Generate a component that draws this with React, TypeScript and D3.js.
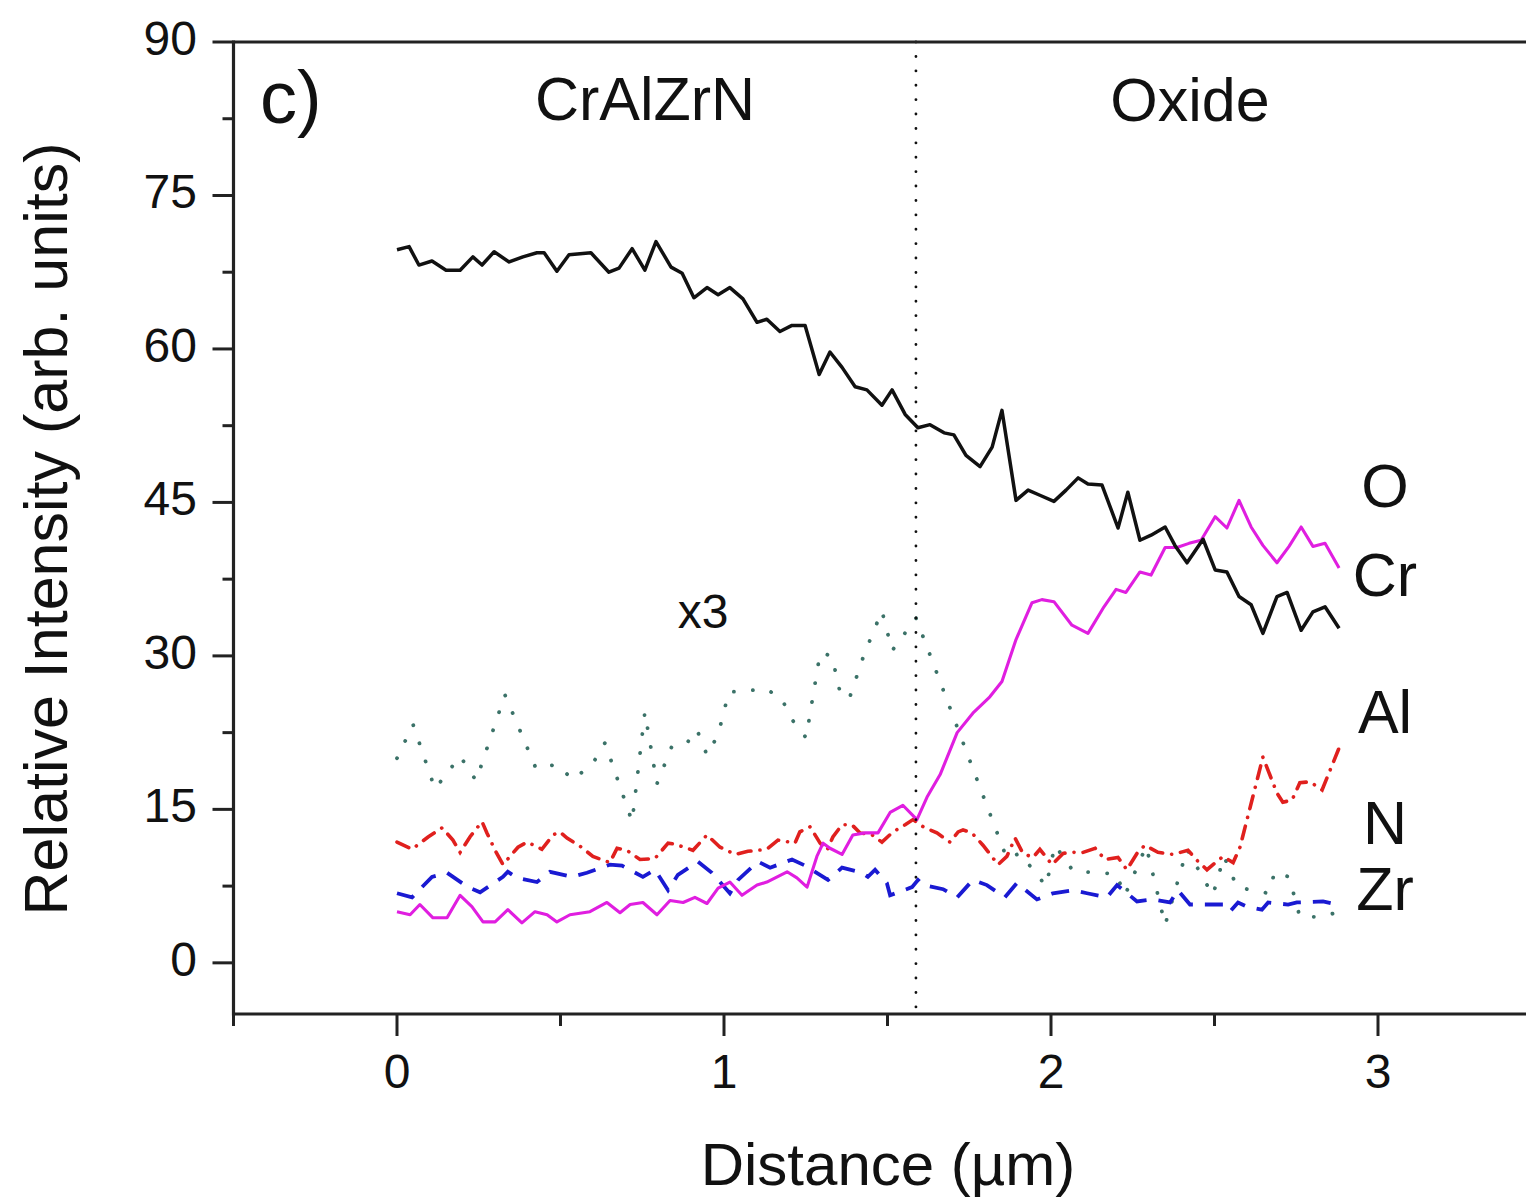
import React from "react";
import * as d3 from "d3";

// ---------- data (distance in µm, relative intensity) ----------
const crData: [number, number][] = [
  [0.0, 69.7], [0.037, 70.0], [0.067, 68.2], [0.107, 68.6], [0.15, 67.7], [0.193, 67.7],
  [0.232, 69.0], [0.26, 68.2], [0.297, 69.5], [0.343, 68.5], [0.385, 69.0], [0.428, 69.4],
  [0.45, 69.4], [0.489, 67.6], [0.526, 69.2], [0.56, 69.3], [0.593, 69.4], [0.648, 67.5],
  [0.679, 67.9], [0.719, 69.8], [0.758, 67.7], [0.792, 70.5], [0.838, 68.0], [0.872, 67.4],
  [0.908, 65.0], [0.948, 66.0], [0.982, 65.3], [1.018, 66.0], [1.058, 64.9], [1.101, 62.6],
  [1.131, 62.9], [1.171, 61.7], [1.208, 62.3], [1.248, 62.3], [1.291, 57.5], [1.324, 59.7],
  [1.361, 58.2], [1.401, 56.3], [1.437, 56.0], [1.483, 54.5], [1.514, 56.0], [1.554, 53.6],
  [1.593, 52.3], [1.63, 52.6], [1.673, 51.8], [1.703, 51.6], [1.74, 49.6], [1.783, 48.5],
  [1.82, 50.4], [1.85, 54.0], [1.893, 45.2], [1.93, 46.2], [1.966, 45.7], [2.009, 45.1],
  [2.046, 46.2], [2.083, 47.4], [2.113, 46.8], [2.156, 46.7], [2.205, 42.5], [2.235, 46.0],
  [2.272, 41.3], [2.306, 41.8], [2.349, 42.6], [2.379, 40.8], [2.416, 39.1], [2.465, 41.4],
  [2.502, 38.4], [2.538, 38.2], [2.575, 35.8], [2.612, 35.0], [2.648, 32.2], [2.691, 35.8],
  [2.722, 36.2], [2.765, 32.5], [2.801, 34.3], [2.838, 34.8], [2.881, 32.7],
];

const oData: [number, number][] = [
  [0.0, 5.0], [0.04, 4.7], [0.07, 5.7], [0.11, 4.4], [0.153, 4.4], [0.193, 6.6],
  [0.229, 5.5], [0.263, 4.0], [0.3, 4.0], [0.339, 5.2], [0.382, 3.9], [0.422, 5.0],
  [0.459, 4.7], [0.489, 4.0], [0.529, 4.7], [0.59, 5.0], [0.642, 5.9], [0.682, 4.9],
  [0.713, 5.7], [0.752, 5.9], [0.795, 4.7], [0.835, 6.1], [0.875, 5.9], [0.911, 6.4],
  [0.948, 5.8], [0.982, 7.3], [1.018, 7.9], [1.055, 6.6], [1.101, 7.6], [1.131, 7.9],
  [1.193, 8.9], [1.223, 8.3], [1.254, 7.4], [1.284, 10.4], [1.303, 11.7], [1.324, 11.2],
  [1.361, 10.6], [1.394, 12.5], [1.431, 12.7], [1.471, 12.7], [1.508, 14.7], [1.547, 15.4],
  [1.59, 14.0], [1.621, 16.2], [1.661, 18.4], [1.713, 22.5], [1.761, 24.4], [1.813, 26.0],
  [1.85, 27.5], [1.893, 31.6], [1.942, 35.2], [1.972, 35.5], [2.009, 35.3], [2.064, 33.0],
  [2.113, 32.2], [2.162, 34.8], [2.199, 36.5], [2.229, 36.2], [2.272, 38.2], [2.306, 37.9],
  [2.349, 40.6], [2.385, 40.6], [2.422, 41.0], [2.459, 41.3], [2.502, 43.6], [2.538, 42.5],
  [2.575, 45.2], [2.612, 42.6], [2.648, 40.8], [2.691, 39.1], [2.728, 40.7], [2.765, 42.6],
  [2.801, 40.7], [2.838, 41.0], [2.881, 38.6],
];

const alData: [number, number][] = [
  [0.0, 11.8], [0.046, 11.1], [0.095, 12.3], [0.138, 13.2], [0.171, 12.0], [0.193, 10.8],
  [0.223, 12.3], [0.26, 13.8], [0.275, 12.7], [0.3, 11.0], [0.324, 9.6], [0.37, 11.3],
  [0.398, 11.8], [0.443, 11.1], [0.477, 12.5], [0.498, 12.8], [0.52, 12.2], [0.56, 11.4],
  [0.599, 10.4], [0.651, 9.8], [0.673, 11.2], [0.703, 11.0], [0.743, 10.1], [0.789, 10.2],
  [0.829, 11.7], [0.85, 11.6], [0.905, 11.0], [0.948, 12.5], [0.988, 11.3], [1.034, 10.6],
  [1.073, 10.9], [1.131, 11.1], [1.165, 12.0], [1.217, 11.7], [1.232, 12.8], [1.263, 13.3],
  [1.294, 11.7], [1.315, 11.0], [1.333, 12.3], [1.361, 13.5], [1.391, 13.5], [1.416, 12.7],
  [1.453, 12.5], [1.483, 11.8], [1.517, 12.8], [1.554, 13.5], [1.578, 14.0], [1.609, 13.3],
  [1.651, 12.7], [1.691, 11.8], [1.716, 12.8], [1.731, 13.0], [1.758, 12.7], [1.792, 11.5],
  [1.838, 9.6], [1.865, 10.4], [1.89, 12.2], [1.914, 10.7], [1.945, 10.3], [1.966, 11.1],
  [2.003, 9.6], [2.037, 10.7], [2.064, 10.8], [2.098, 10.8], [2.135, 11.2], [2.165, 10.1],
  [2.205, 10.3], [2.232, 9.1], [2.263, 10.7], [2.287, 11.5], [2.327, 10.8], [2.373, 10.6],
  [2.419, 11.0], [2.45, 9.9], [2.477, 9.1], [2.526, 10.4], [2.557, 9.8], [2.578, 11.3],
  [2.648, 20.1], [2.691, 16.6], [2.709, 15.7], [2.737, 15.9], [2.761, 17.6], [2.792, 17.7],
  [2.829, 16.9], [2.881, 21.0],
];

const zrData: [number, number][] = [
  [0.0, 6.8], [0.046, 6.4], [0.107, 8.4], [0.153, 8.8], [0.217, 7.4], [0.254, 6.9],
  [0.324, 8.4], [0.339, 8.9], [0.367, 8.3], [0.428, 7.9], [0.468, 8.9], [0.535, 8.4],
  [0.581, 8.8], [0.651, 9.6], [0.688, 9.5], [0.752, 8.4], [0.789, 9.1], [0.829, 7.1],
  [0.859, 8.6], [0.92, 9.9], [0.963, 8.8], [1.018, 6.8], [1.043, 8.1], [1.104, 9.9],
  [1.141, 9.3], [1.208, 10.1], [1.248, 9.5], [1.318, 8.1], [1.361, 9.3], [1.422, 8.8],
  [1.44, 8.4], [1.462, 9.1], [1.498, 7.8], [1.508, 6.6], [1.575, 7.4], [1.593, 8.1],
  [1.609, 7.6], [1.67, 7.2], [1.713, 6.4], [1.761, 8.1], [1.804, 7.6], [1.859, 6.4],
  [1.896, 7.8], [1.957, 6.2], [2.006, 6.8], [2.067, 7.1], [2.11, 6.8], [2.171, 6.4],
  [2.202, 7.6], [2.263, 6.0], [2.309, 6.2], [2.364, 5.9], [2.388, 7.1], [2.425, 5.7],
  [2.465, 5.7], [2.526, 5.7], [2.547, 5.0], [2.572, 5.9], [2.599, 5.5], [2.645, 5.2],
  [2.664, 5.9], [2.725, 5.7], [2.752, 5.9], [2.832, 6.0], [2.875, 5.7],
];

// N intensity shown ×3
const nData: [number, number][] = [
  [0.0, 20.0], [0.049, 23.3], [0.116, 17.0], [0.193, 20.2], [0.242, 17.8], [0.33, 26.2],
  [0.425, 19.0], [0.489, 19.4], [0.538, 17.9], [0.599, 19.5], [0.636, 21.5], [0.719, 13.8],
  [0.758, 24.5], [0.795, 17.5], [0.841, 21.2], [0.887, 21.5], [0.917, 22.8], [0.948, 20.3],
  [0.982, 22.3], [1.015, 26.5], [1.055, 26.5], [1.122, 26.8], [1.174, 26.0], [1.205, 23.9],
  [1.251, 22.0], [1.294, 30.3], [1.33, 30.0], [1.358, 26.0], [1.385, 26.0], [1.428, 30.1],
  [1.483, 34.4], [1.514, 30.5], [1.587, 33.7], [1.63, 30.1], [1.749, 20.0], [1.865, 10.2],
  [1.905, 10.7], [1.985, 7.5], [2.012, 11.5], [2.067, 9.0], [2.135, 8.8], [2.199, 8.7],
  [2.226, 6.6], [2.291, 11.4], [2.349, 3.7], [2.416, 11.1], [2.495, 6.6], [2.529, 10.4],
  [2.569, 7.4], [2.664, 6.8], [2.685, 8.9], [2.728, 8.4], [2.761, 4.5], [2.829, 4.5],
  [2.881, 5.0],
];

const xMajorTicks = [0, 1, 2, 3];
const xMinorTicks = [-0.5, 0.5, 1.5, 2.5, 3.5];
const yMajorTicks = [0, 15, 30, 45, 60, 75, 90];
const yMinorTicks = [7.5, 22.5, 37.5, 52.5, 67.5, 82.5];

const interfaceX = 1.587;

// label anchor values (baseline position in data units)
const seriesLabels = [
  { text: "O", value: 44.6 },
  { text: "Cr", value: 35.9 },
  { text: "Al", value: 22.5 },
  { text: "N", value: 11.6 },
  { text: "Zr", value: 5.2 },
];

// ---------- chart ----------
const W = 1526;
const H = 1201;
const x = d3.scaleLinear().domain([-0.5, 3.5]).range([233.5, 1541.5]);
const y = d3.scaleLinear().domain([-5, 90]).range([1014, 42]);
const line = d3
  .line<[number, number]>()
  .x((d) => x(d[0]))
  .y((d) => y(d[1]));

const FONT = "'Liberation Sans', Arial, Helvetica, sans-serif";

export default function App() {
  const x0 = x.range()[0];
  const x1 = x.range()[1];
  const yTop = y(90);
  const yBot = y(-5);
  return (
    <svg
      width={W}
      height={H}
      viewBox={`0 0 ${W} ${H}`}
      style={{ position: "absolute", left: 0, top: 0, background: "#fff" }}
      fontFamily={FONT}
    >
      <rect x={0} y={0} width={W} height={H} fill="#fff" />

      {/* data lines */}
      <path
        d={line(nData) || ""}
        fill="none"
        stroke="#3b7268"
        strokeWidth={3.8}
        strokeLinecap="round"
        strokeDasharray="0.1 19"
      />
      <path
        d={line(zrData) || ""}
        fill="none"
        stroke="#1a1ad2"
        strokeWidth={3.8}
        strokeDasharray="18 12"
      />
      <path
        d={line(alData) || ""}
        fill="none"
        stroke="#e0201e"
        strokeWidth={3.6}
        strokeLinecap="round"
        strokeDasharray="13 9 0.1 9"
      />
      <path
        d={line(oData) || ""}
        fill="none"
        stroke="#e01ee0"
        strokeWidth={3.1}
        strokeLinejoin="round"
      />
      <path
        d={line(crData) || ""}
        fill="none"
        stroke="#111"
        strokeWidth={3.5}
        strokeLinejoin="round"
      />

      {/* interface line */}
      <line
        x1={x(interfaceX)}
        x2={x(interfaceX)}
        y1={yTop}
        y2={yBot}
        stroke="#111"
        strokeWidth={2.8}
        strokeLinecap="round"
        strokeDasharray="0.1 14.3"
      />

      {/* frame */}
      <line x1={x0} x2={x1} y1={yTop} y2={yTop} stroke="#222" strokeWidth={3.2} />
      <line x1={x0} x2={x1} y1={yBot} y2={yBot} stroke="#222" strokeWidth={3.2} />
      <line x1={x0} x2={x0} y1={yTop - 1.6} y2={yBot + 1.6} stroke="#222" strokeWidth={3.2} />
      <line x1={x1} x2={x1} y1={yTop} y2={yBot} stroke="#222" strokeWidth={3.2} />

      {/* y ticks */}
      {yMajorTicks.map((t) => (
        <g key={"ym" + t}>
          <line x1={x0 - 21} x2={x0} y1={y(t)} y2={y(t)} stroke="#222" strokeWidth={3} />
          <text x={197} y={y(t) + 13} fontSize={48} textAnchor="end" fill="#111">
            {t}
          </text>
        </g>
      ))}
      {yMinorTicks.map((t) => (
        <line key={"yn" + t} x1={x0 - 11} x2={x0} y1={y(t)} y2={y(t)} stroke="#222" strokeWidth={3} />
      ))}

      {/* x ticks */}
      {xMajorTicks.map((t) => (
        <g key={"xm" + t}>
          <line x1={x(t)} x2={x(t)} y1={yBot} y2={yBot + 22} stroke="#222" strokeWidth={3} />
          <text x={x(t)} y={1088} fontSize={48} textAnchor="middle" fill="#111">
            {t}
          </text>
        </g>
      ))}
      {xMinorTicks.map((t) => (
        <line key={"xn" + t} x1={x(t)} x2={x(t)} y1={yBot} y2={yBot + 12} stroke="#222" strokeWidth={3} />
      ))}

      {/* axis titles */}
      <text
        transform={`translate(67, 529) rotate(-90)`}
        fontSize={61}
        textAnchor="middle"
        fill="#111"
      >
        Relative Intensity (arb. units)
      </text>
      <text x={888} y={1185} fontSize={60} textAnchor="middle" fill="#111">
        Distance (µm)
      </text>

      {/* annotations */}
      <text x={260} y={123} fontSize={74} fill="#111">
        c)
      </text>
      <text x={645} y={120} fontSize={61} textAnchor="middle" fill="#111">
        CrAlZrN
      </text>
      <text x={1190} y={121} fontSize={61} textAnchor="middle" fill="#111">
        Oxide
      </text>
      <text x={703} y={628} fontSize={48} textAnchor="middle" fill="#111">
        x3
      </text>
      {seriesLabels.map((l) => (
        <text
          key={l.text}
          x={1385}
          y={y(l.value)}
          fontSize={61}
          textAnchor="middle"
          fill="#111"
        >
          {l.text}
        </text>
      ))}
    </svg>
  );
}
